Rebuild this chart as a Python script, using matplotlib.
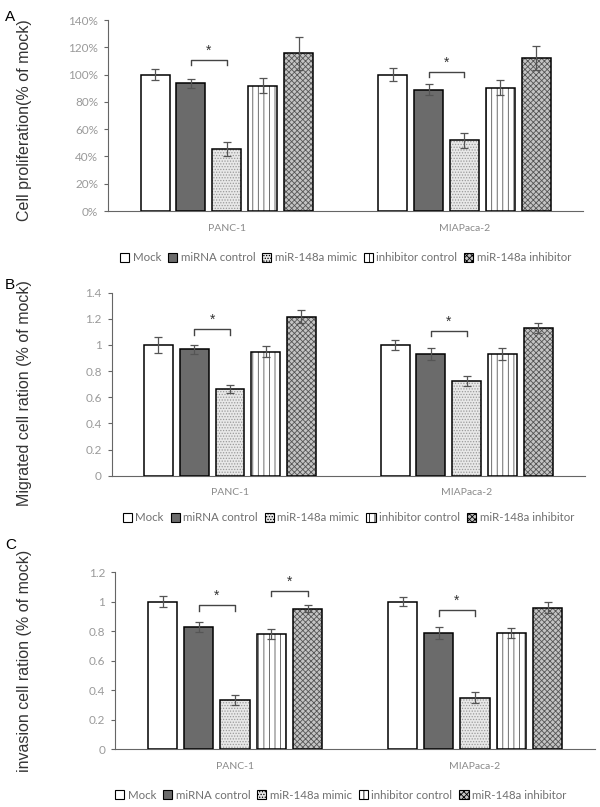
import numpy as np
import matplotlib
matplotlib.use("Agg")
import matplotlib.pyplot as plt
from matplotlib.patches import Patch
from matplotlib.ticker import FuncFormatter

# data
cells = ["PANC-1", "MIAPaca-2"]
groups = ["Mock", "miRNA control", "miR-148a mimic", "inhibitor control", "miR-148a inhibitor"]

prolif = [[100, 93.5, 45.5, 92, 115.5], [100, 89, 52, 90.5, 112]]
prolif_err = [[4, 3.2, 5, 5.7, 12], [4.5, 4, 5.5, 5.6, 9]]

migr = [[1.0, 0.967, 0.663, 0.949, 1.217], [1.0, 0.93, 0.724, 0.93, 1.13]]
migr_err = [[0.06, 0.033, 0.03, 0.042, 0.05], [0.035, 0.045, 0.035, 0.045, 0.04]]

inv = [[1.0, 0.825, 0.334, 0.78, 0.951], [1.0, 0.786, 0.348, 0.786, 0.958]]
inv_err = [[0.037, 0.034, 0.032, 0.034, 0.023], [0.03, 0.04, 0.038, 0.035, 0.038]]

# significance brackets: (cell index, bar i, bar j, y of bracket, drop)
sig_a = [(0, 1, 2, 111, 4), (1, 1, 2, 102, 4)]
sig_b = [(0, 1, 2, 1.12, 0.04), (1, 1, 2, 1.11, 0.04)]
sig_c = [(0, 1, 2, 0.974, 0.038), (0, 3, 4, 1.073, 0.038), (1, 1, 2, 0.94, 0.04)]

faces = ["white", "#6b6b6b", "#e8e8e8", "white", "#c4c4c4"]
hatches = [None, None, "......", "|||", "xxxxxx"]
hatch_cols = ["black", "#6b6b6b", "#9a9a9a", "#555555", "#555555"]

plt.rcParams['font.family'] = ['Liberation Sans', 'DejaVu Sans']
plt.rcParams['hatch.linewidth'] = 0.6

fig = plt.figure(figsize=(6, 8.07), dpi=100)

W = 0.122
step = 0.151


def panel(rect, vals, errs, sigs, ymax, ystep, ylabel, letter, letter_y, lab_y, pct=False, leg_y=-0.2, leg_x=0.5):
    ax = fig.add_axes(rect)
    x = np.arange(len(cells))
    for k in range(len(groups)):
        pos = x + (k - 2) * step
        v = [vals[c][k] for c in range(len(cells))]
        e = [errs[c][k] for c in range(len(cells))]
        if hatches[k]:
            ax.bar(pos, v, W, color=faces[k], hatch=hatches[k], edgecolor=hatch_cols[k], linewidth=0, zorder=2)
            ax.bar(pos, v, W, color="none", edgecolor="black", linewidth=1.1, zorder=3)
        else:
            ax.bar(pos, v, W, color=faces[k], edgecolor="black", linewidth=1.1, zorder=3)
        ax.errorbar(pos, v, yerr=e, fmt="none", ecolor="#555555", elinewidth=0.9, capsize=3, capthick=0.9, zorder=4)
    for c, i, j, y, d in sigs:
        x1 = c + (i - 2) * step
        x2 = c + (j - 2) * step
        ax.plot([x1, x1, x2, x2], [y - d, y, y, y - d], color="#444444", lw=1.0, zorder=5)
        ax.text((x1 + x2) / 2, y + d * 0.4, "*", ha="center", va="bottom", fontsize=10, color="#333333")
    ax.set_xlim(-0.5, 1.5)
    ax.set_ylim(0, ymax)
    ax.set_yticks(np.arange(0, ymax + ystep / 2, ystep))
    if pct:
        ax.yaxis.set_major_formatter(FuncFormatter(lambda v, p: "%d%%" % round(v)))
    else:
        ax.yaxis.set_major_formatter(FuncFormatter(lambda v, p: ("%g" % round(v, 2))))
    ax.set_xticks(x)
    ax.set_xticklabels(cells)
    for s in ["top", "right"]:
        ax.spines[s].set_visible(False)
    ax.spines["left"].set_color("#666666")
    ax.spines["bottom"].set_color("#666666")
    ax.tick_params(axis="y", length=3, color="#666666", labelsize=8.5, labelcolor="#9a9a9a", pad=4)
    ax.tick_params(axis="x", length=0, labelsize=7.5, labelcolor="#8a8a8a", pad=9)
    for t in ax.get_yticklabels() + ax.get_xticklabels():
        t.set_family(["Lato", "DejaVu Sans"])
    ax.set_ylabel(ylabel, fontsize=11.5, color="#333333")
    ax.yaxis.set_label_coords((32 / 600 - rect[0]) / rect[2], lab_y)
    fig.text(0.008, letter_y, letter, fontsize=11, va="center", ha="left")
    handles = [Patch(facecolor=faces[k], edgecolor="black", hatch=hatches[k], linewidth=0.8) for k in range(len(groups))]
    leg = ax.legend(handles, groups, loc="center", bbox_to_anchor=(leg_x, leg_y), ncol=5, frameon=False,
                    handlelength=0.8, handleheight=0.8, handletextpad=0.3, columnspacing=0.6,
                    prop={"family": ["Lato", "DejaVu Sans"], "size": 8.3})
    for t in leg.get_texts():
        t.set_color("#707070")
    return ax


panel([0.18, 0.7385, 0.792, 0.2367], prolif, prolif_err, sig_a, 140, 20,
      "Cell proliferation(% of mock)", "A", 0.979, 0.476, pct=True, leg_y=-0.245)
panel([0.186, 0.4105, 0.789, 0.2268], migr, migr_err, sig_b, 1.4, 0.2,
      "Migrated cell ration (% of mock)", "B", 0.647, 0.45, leg_y=-0.23)
panel([0.1917, 0.0715, 0.8, 0.2197], inv, inv_err, sig_c, 1.2, 0.2,
      "invasion cell ration (% of mock)", "C", 0.325, 0.5, leg_y=-0.26, leg_x=0.47)

fig.savefig("out.png", dpi=100)
